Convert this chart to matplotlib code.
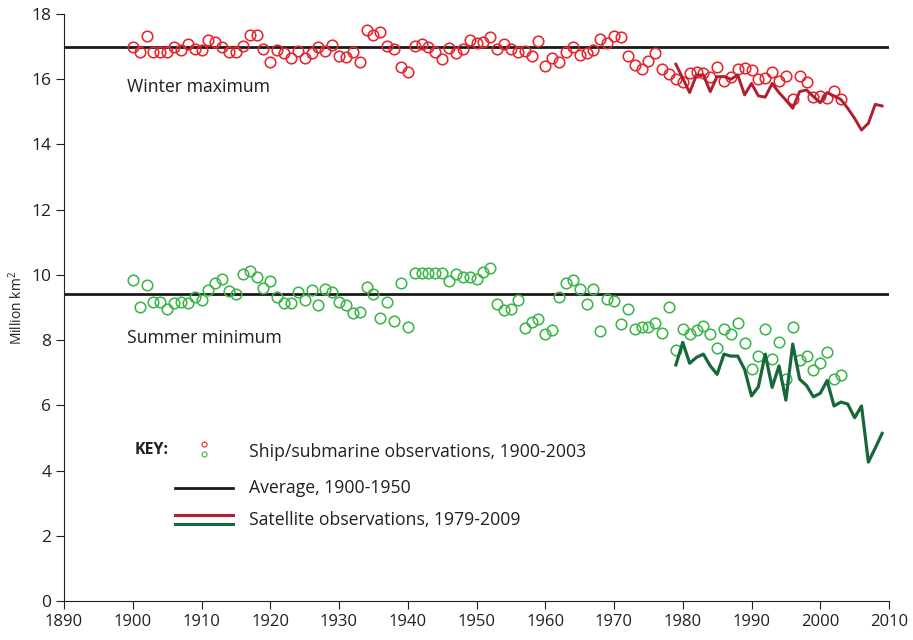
import matplotlib
matplotlib.use("Agg")
import matplotlib.pyplot as plt

plt.rcParams['font.family'] = ['Open Sans', 'DejaVu Sans']
plt.rcParams['mathtext.default'] = 'regular'

# ---------------- data ----------------
ship_years = list(range(1900, 2004))
winter_ship = [
    17.0, 16.83, 17.34, 16.83, 16.83, 16.83, 16.98, 16.9, 17.08, 16.94,  # 1900-1909
    16.9, 17.2, 17.15, 17.0, 16.84, 16.84, 17.03, 17.37, 17.37, 16.94,   # 1910-1919
    16.52, 16.9, 16.79, 16.65, 16.86, 16.65, 16.79, 16.98, 16.88, 17.05, # 1920-1929
    16.71, 16.69, 16.83, 16.52, 17.51, 17.37, 17.46, 17.02, 16.92, 16.39, # 1930-1939
    16.21, 17.02, 17.07, 17.0, 16.85, 16.61, 16.96, 16.81, 16.92, 17.2,  # 1940-1949
    17.1, 17.14, 17.29, 16.92, 17.07, 16.94, 16.85, 16.86, 16.71, 17.18, # 1950-1959
    16.4, 16.65, 16.52, 16.85, 16.98, 16.75, 16.79, 16.9, 17.24, 17.1,   # 1960-1969
    17.34, 17.3, 16.71, 16.44, 16.31, 16.55, 16.81, 16.31, 16.15, 16.02, # 1970-1979
    15.9, 16.18, 16.23, 16.18, 16.06, 16.37, 15.95, 16.08, 16.3, 16.35,  # 1980-1989
    16.28, 16.0, 16.03, 16.23, 15.95, 16.1, 15.39, 16.1, 15.92, 15.47,   # 1990-1999
    15.49, 15.42, 15.64, 15.39,                                          # 2000-2003
]
summer_ship = [
    9.84, 9.03, 9.7, 9.17, 9.17, 8.95, 9.15, 9.17, 9.15, 9.33,    # 1900-1909
    9.23, 9.54, 9.76, 9.86, 9.5, 9.4, 10.02, 10.13, 9.95, 9.61,   # 1910-1919
    9.8, 9.33, 9.15, 9.15, 9.48, 9.23, 9.54, 9.09, 9.57, 9.48,    # 1920-1929
    9.18, 9.09, 8.83, 8.85, 9.64, 9.41, 8.69, 9.18, 8.58, 9.74,   # 1930-1939
    8.41, 10.05, 10.05, 10.05, 10.05, 10.05, 9.82, 10.02, 9.95, 9.95, # 1940-1949
    9.86, 10.08, 10.2, 9.11, 8.92, 8.94, 9.24, 8.38, 8.55, 8.65,  # 1950-1959
    8.19, 8.31, 9.31, 9.74, 9.84, 9.58, 9.11, 9.58, 8.28, 9.26,   # 1960-1969
    9.21, 8.49, 8.94, 8.35, 8.39, 8.41, 8.51, 8.21, 9.03, 7.7,    # 1970-1979
    8.34, 8.19, 8.31, 8.44, 8.19, 7.75, 8.33, 8.18, 8.51, 7.92,   # 1980-1989
    7.1, 7.51, 8.35, 7.43, 7.95, 6.81, 8.39, 7.39, 7.51, 7.08,    # 1990-1999
    7.29, 7.64, 6.82, 6.94,                                       # 2000-2003
]

sat_years = list(range(1979, 2010))
winter_sat = [
    16.46, 16.03, 15.59, 16.13, 16.13, 15.62, 16.08, 16.08, 16.0, 16.13,  # 1979-1988
    15.52, 15.87, 15.49, 15.45, 15.87, 15.59, 15.36, 15.11, 15.62, 15.67, # 1989-1998
    15.47, 15.28, 15.59, 15.49, 15.38, 15.11, 14.8, 14.44, 14.65, 15.23,  # 1999-2008
    15.18,                                                                # 2009
]
summer_sat = [
    7.24, 7.93, 7.29, 7.47, 7.57, 7.21, 6.95, 7.57, 7.51, 7.51,   # 1979-1988
    7.1, 6.29, 6.57, 7.57, 6.55, 7.21, 6.16, 7.88, 6.8, 6.61,     # 1989-1998
    6.26, 6.37, 6.76, 5.98, 6.1, 6.04, 5.62, 5.98, 4.26, 4.69,    # 1999-2008
    5.14,                                                         # 2009
]

winter_avg = 17.0
summer_avg = 9.4

x_ticks = list(range(1890, 2011, 10))
y_ticks = list(range(0, 19, 2))

# ---------------- styles ----------------
RED_PT = '#e8242c'
GREEN_PT = '#3db54a'
RED_LN = '#b01f2e'
GREEN_LN = '#17673a'
TXT = '#231f20'
FS = 12.7

fig = plt.figure(figsize=(9.13, 6.40), dpi=100)
ax = fig.add_axes([64 / 913, 39 / 640, 825 / 913, 587 / 640])

ax.axhline(winter_avg, color='#1a1a1a', lw=2.0, zorder=2)
ax.axhline(summer_avg, color='#1a1a1a', lw=2.0, zorder=2)

ax.plot(ship_years, winter_ship, 'o', ms=7.6, mfc='none', mec=RED_PT, mew=1.15, zorder=3)
ax.plot(ship_years, summer_ship, 'o', ms=7.6, mfc='none', mec=GREEN_PT, mew=1.15, zorder=3)
ax.plot(sat_years, winter_sat, '-', color=RED_LN, lw=2.1, zorder=4)
ax.plot(sat_years, summer_sat, '-', color=GREEN_LN, lw=2.3, zorder=4)

ax.set_xlim(1890, 2010)
ax.set_ylim(0, 18)
ax.set_xticks(x_ticks)
ax.set_yticks(y_ticks)
ax.spines['top'].set_visible(False)
ax.spines['right'].set_visible(False)
for s in ('left', 'bottom'):
    ax.spines[s].set_linewidth(0.8)
    ax.spines[s].set_color('#231f20')
ax.tick_params(axis='both', direction='out', length=6, width=0.8, color='#231f20')
ax.tick_params(axis='y', labelsize=12.5, labelcolor=TXT, pad=3)
ax.tick_params(axis='x', labelsize=12, labelcolor=TXT, pad=3)
for lab in ax.get_xticklabels():
    lab.set_family(['Liberation Sans Narrow', 'Open Sans', 'DejaVu Sans'])
ax.set_ylabel('Million km$^2$', fontsize=10, color=TXT, labelpad=4,
              family=['Liberation Sans Narrow', 'Open Sans', 'DejaVu Sans'])

ax.text(1899.2, 15.76, 'Winter maximum', fontsize=FS, color=TXT, va='center', ha='left')
ax.text(1899.2, 8.07, 'Summer minimum', fontsize=FS, color=TXT, va='center', ha='left')

# ---------------- key ----------------
ax.text(1900.3, 4.63, 'KEY:', fontsize=11.5, fontweight='bold', color=TXT, va='center', ha='left')
ax.plot([1910.4], [4.81], 'o', ms=3.6, mfc='none', mec=RED_PT, mew=0.8)
ax.plot([1910.4], [4.51], 'o', ms=3.6, mfc='none', mec=GREEN_PT, mew=0.8)
ax.text(1916.9, 4.57, 'Ship/submarine observations, 1900-2003', fontsize=FS, color=TXT,
        va='center', ha='left')
ax.plot([1906.1, 1914.6], [3.47, 3.47], color='#1a1a1a', lw=2.0)
ax.text(1916.9, 3.47, 'Average, 1900-1950', fontsize=FS, color=TXT, va='center', ha='left')
ax.plot([1906.1, 1914.6], [2.64, 2.64], color=RED_LN, lw=2.2)
ax.plot([1906.1, 1914.6], [2.36, 2.36], color=GREEN_LN, lw=2.2)
ax.text(1916.9, 2.48, 'Satellite observations, 1979-2009', fontsize=FS, color=TXT,
        va='center', ha='left')

fig.savefig('out.png', dpi=100)
